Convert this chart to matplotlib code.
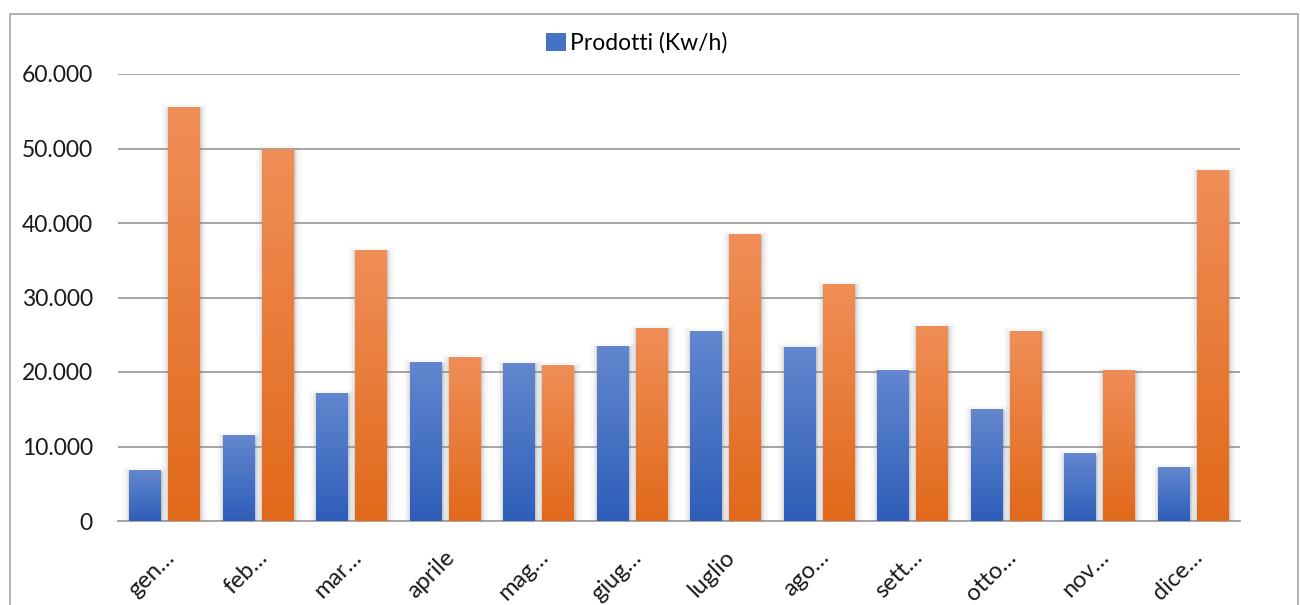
import numpy as np
import matplotlib
matplotlib.use('Agg')
import matplotlib.pyplot as plt
import matplotlib.patheffects as pe
from matplotlib.patches import Rectangle, Patch
from matplotlib.ticker import FuncFormatter
from matplotlib.colors import LinearSegmentedColormap
from matplotlib.transforms import ScaledTranslation

plt.rcParams['font.family'] = ['Lato', 'DejaVu Sans']

# data
mesi = ['gen…', 'feb…', 'mar…', 'aprile', 'mag…', 'giug…',
        'luglio', 'ago…', 'sett…', 'otto…', 'nov…', 'dice…']
prodotti = [6800, 11500, 17200, 21300, 21200, 23500,
            25500, 23400, 20300, 15000, 9100, 7200]
consumati = [55600, 49900, 36400, 22000, 20900, 25900,
             38500, 31800, 26200, 25500, 20300, 47100]

blu = ('#2e5eb9', '#6387cf')
arancio = ('#e1691a', '#f08e58')

fig = plt.figure(figsize=(13, 6.05), dpi=100)
ax = fig.add_axes([118 / 1300, 1 - 521 / 605, 1122 / 1300, 447 / 605])

# chart border
fig.add_artist(Rectangle((10 / 1300, -0.01), 1288 / 1300, 1 - 14 / 605 + 0.01,
                         transform=fig.transFigure, fill=False,
                         edgecolor='#a6a6a6', linewidth=1.2))

x = np.arange(len(mesi))
w = 0.342
off = 0.21

shadow = [pe.Stroke(linewidth=9, foreground='#808080', alpha=0.06, offset=(0, -2)),
          pe.Stroke(linewidth=5, foreground='#808080', alpha=0.10, offset=(0, -2)),
          pe.Stroke(linewidth=2, foreground='#707070', alpha=0.15, offset=(0, -1)),
          pe.Normal()]

grad = np.linspace(0, 1, 256).reshape(-1, 1)


def draw_series(vals, shift, cols):
    cmap = LinearSegmentedColormap.from_list('g', list(cols))
    bars = ax.bar(x + shift, vals, width=w, color=cols[0], linewidth=0, zorder=3)
    for b in bars:
        b.set_path_effects(shadow)
        x0, y0 = b.get_x(), b.get_y()
        im = ax.imshow(grad, cmap=cmap, origin='lower', aspect='auto',
                       extent=[x0, x0 + b.get_width(), y0, y0 + b.get_height()],
                       zorder=4)
        im.set_clip_path(b)
    return bars


draw_series(prodotti, -off, blu)
draw_series(consumati, off, arancio)

ax.set_xlim(-0.5, len(mesi) - 0.5)
ax.set_ylim(0, 60000)
ax.set_yticks(range(0, 60001, 10000))
ax.yaxis.set_major_formatter(FuncFormatter(lambda v, p: f'{int(v):,}'.replace(',', '.')))
ax.grid(axis='y', color='#a6a6a6', linewidth=1.4, zorder=0)
ax.set_axisbelow(True)
for s in ['top', 'right', 'left']:
    ax.spines[s].set_visible(False)
ax.spines['bottom'].set_color('#a6a6a6')
ax.spines['bottom'].set_linewidth(1.4)
ax.tick_params(axis='y', length=0, pad=18, labelsize=16.5, labelcolor='#1a1a1a')
ax.tick_params(axis='x', length=0, pad=18, labelsize=17, labelcolor='#1a1a1a')

ax.set_xticks(x)
ax.set_xticklabels(mesi, rotation=45, ha='right', va='center', rotation_mode='anchor')
for lab in ax.get_xticklabels():
    lab.set_transform(lab.get_transform() + ScaledTranslation(6 / 100, -8 / 100, fig.dpi_scale_trans))

handle = Patch(facecolor='#4472c4', edgecolor='none')
fig.legend([handle], ['Prodotti (Kw/h)'], loc='center', bbox_to_anchor=(0.49, 1 - 43 / 605),
           frameon=False, fontsize=16.5, handlelength=0.85, handleheight=0.85,
           handletextpad=0.2)

fig.savefig('out.png', dpi=100)
